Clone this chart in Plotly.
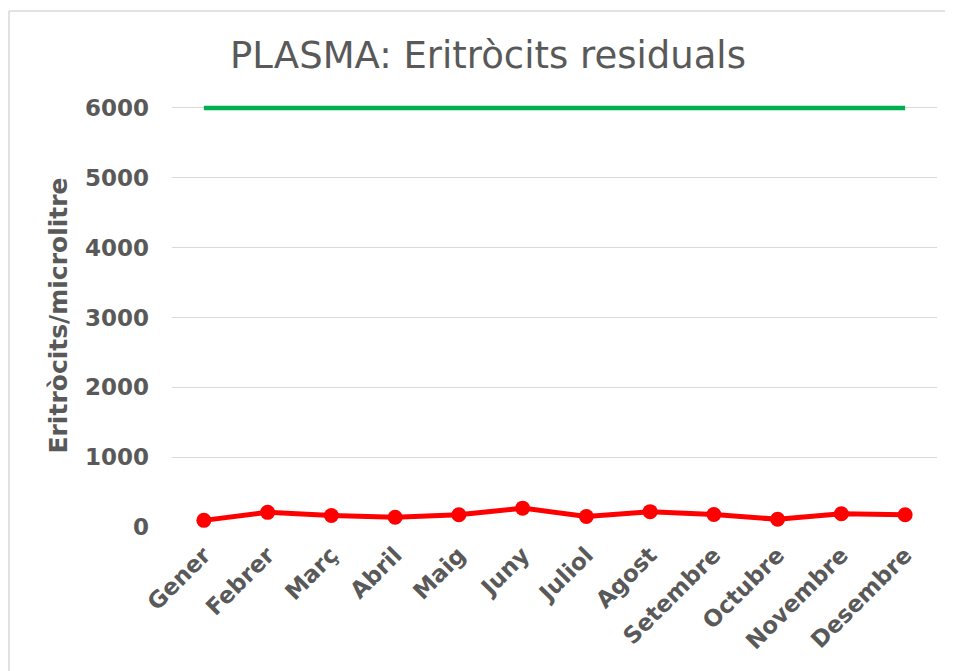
import plotly.graph_objects as go

months = ["Gener", "Febrer", "Març", "Abril", "Maig", "Juny", "Juliol",
          "Agost", "Setembre", "Octubre", "Novembre", "Desembre"]
residual = [95, 210, 165, 140, 175, 270, 150, 220, 180, 110, 190, 175]
limit = [6000] * 12
y_ticks = [0, 1000, 2000, 3000, 4000, 5000, 6000]

grey = "#595959"
# page body has an 8px offset; figure coordinates = reference - 8
W, H = 945, 663
L, R, T, B = 164, 16, 96, 144
plot_w = W - L - R
plot_h = H - T - B

bx0 = (1 - L) / plot_w
bx1 = (W + 20 - L) / plot_w
by_top = (T + plot_h - 3) / plot_h
by_bot = (T + plot_h - 720) / plot_h

fig = go.Figure()
fig.add_trace(go.Scatter(x=months, y=limit, mode="lines",
                         line=dict(color="#00b050", width=4.5),
                         showlegend=False, hoverinfo="skip"))
fig.add_trace(go.Scatter(x=months, y=residual, mode="lines+markers",
                         line=dict(color="#ff0000", width=5),
                         marker=dict(color="#ff0000", size=15),
                         cliponaxis=False, showlegend=False))

fig.update_layout(
    width=W, height=H,
    margin=dict(l=L, r=R, t=T, b=B),
    paper_bgcolor="white", plot_bgcolor="white",
    font=dict(family="DejaVu Sans", color=grey),
    title=dict(text="PLASMA: Eritròcits residuals", x=480 / W, xanchor="center",
               y=1 - 47 / H, yanchor="middle",
               font=dict(family="DejaVu Sans", size=37, color=grey)),
    xaxis=dict(type="category", tickangle=-45, showgrid=False, showline=False,
               ticks="", ticklabelstandoff=9,
               tickfont=dict(size=23, color=grey, weight="bold"),
               range=[-0.5, 11.5]),
    yaxis=dict(range=[0, 6057], tickvals=y_ticks, showgrid=True,
               gridcolor="#d9d9d9", gridwidth=1, zeroline=False, showline=False,
               ticks="", ticklabelstandoff=22,
               tickfont=dict(size=23, color=grey, weight="bold"),
               title=dict(text="Eritròcits/microlitre", standoff=10,
                          font=dict(size=25, color=grey, weight="bold"))),
    shapes=[
        dict(type="line", xref="paper", yref="paper",
             x0=bx0, x1=bx0, y0=by_bot, y1=by_top,
             line=dict(color="#d9d9d9", width=1.5), layer="below"),
        dict(type="line", xref="paper", yref="paper",
             x0=bx0, x1=bx1, y0=by_top, y1=by_top,
             line=dict(color="#d9d9d9", width=1.5), layer="below"),
    ],
)
fig.write_html("out.html")
